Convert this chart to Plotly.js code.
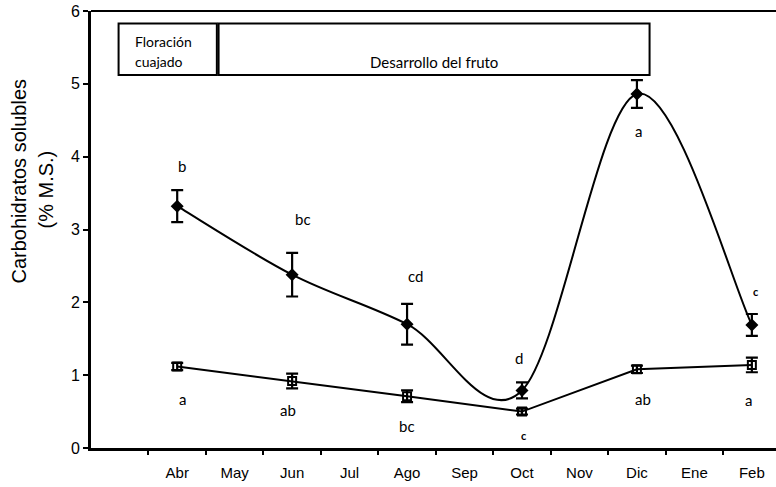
<!DOCTYPE html>
<html>
<head>
<meta charset="utf-8">
<script src="https://cdn.plot.ly/plotly-3.0.1.min.js"></script>
<style>
  html, body { margin: 0; padding: 0; background: #fff; }
  #chart { width: 776px; height: 487px; }
</style>
</head>
<body>
<div id="chart"></div>
<script>
// ---- data ----
const months = ['Abr', 'May', 'Jun', 'Jul', 'Ago', 'Sep', 'Oct', 'Nov', 'Dic', 'Ene', 'Feb'];
const sampleMonths = ['Abr', 'Jun', 'Ago', 'Oct', 'Dic', 'Feb'];
const upperMean = [3.32, 2.38, 1.70, 0.79, 4.86, 1.69];
const upperErr  = [0.22, 0.30, 0.28, 0.11, 0.19, 0.15];
const lowerMean = [1.12, 0.92, 0.71, 0.50, 1.08, 1.14];
const lowerErr  = [0.05, 0.10, 0.08, 0.04, 0.05, 0.10];
const upperLetters = ['b', 'bc', 'cd', 'd', 'a', 'c'];
const lowerLetters = ['a', 'ab', 'bc', 'c', 'ab', 'a'];
const yTitle1 = 'Carbohidratos solubles';
const yTitle2 = '(% M.S.)';
const phase1 = ['Floración', 'cuajado'];
const phase2 = 'Desarrollo del fruto';

// ---- positions derived from labels ----
const monthPos = m => months.indexOf(m) + 1;   // index 0 is an empty leading slot
const xs = sampleMonths.map(monthPos);
const tickPos = months.map((m, i) => i + 1);
const boundaryPos = months.map((m, i) => i + 0.5);

// Smoothed (Excel-style Bezier) path through the upper series, in data coordinates
function smoothPath(x, y) {
  const n = x.length;
  let d = 'M ' + x[0] + ',' + y[0];
  for (let i = 0; i < n - 1; i++) {
    const i0 = Math.max(i - 1, 0), i3 = Math.min(i + 2, n - 1);
    const c1x = x[i] + (x[i + 1] - x[i0]) / 6, c1y = y[i] + (y[i + 1] - y[i0]) / 6;
    const c2x = x[i + 1] - (x[i3] - x[i]) / 6, c2y = y[i + 1] - (y[i3] - y[i]) / 6;
    d += ' C ' + c1x + ',' + c1y + ' ' + c2x + ',' + c2y + ' ' + x[i + 1] + ',' + y[i + 1];
  }
  return d;
}

// ---- styles / label placement (pixels) ----
const upperShift = [[5, 40], [11, 56], [8, 48], [-3, 32], [2, -37], [4, 33]];
const lowerShift = [[5, -33], [-4, -29], [0, -30], [2, -24], [6, -30], [-3, -35]];
const upperSmall = [false, false, false, false, false, true];
const lowerSmall = [false, false, false, true, false, false];
const letterFont = { family: 'Lato, "Open Sans", sans-serif', size: 15, color: '#000' };
const smallFont = { family: 'Lato, "Open Sans", sans-serif', size: 11, color: '#000', weight: 'bold' };

const traces = [
  {
    x: xs, y: upperMean, type: 'scatter', mode: 'markers',
    marker: { symbol: 'diamond', size: 10, color: '#000' },
    error_y: { type: 'data', array: upperErr, visible: true, color: '#000', thickness: 2.2, width: 6 },
    hoverinfo: 'skip', showlegend: false
  },
  {
    x: xs, y: lowerMean, type: 'scatter', mode: 'lines+markers',
    line: { color: '#000', width: 2 },
    marker: { symbol: 'square-open', size: 8, color: '#000', line: { width: 2, color: '#000' } },
    error_y: { type: 'data', array: lowerErr, visible: true, color: '#000', thickness: 2.2, width: 6 },
    hoverinfo: 'skip', showlegend: false
  }
];

const annotations = [];
xs.forEach((x, i) => {
  annotations.push({
    x: x, y: upperMean[i], xref: 'x', yref: 'y', text: upperLetters[i], showarrow: false,
    xshift: upperShift[i][0], yshift: upperShift[i][1],
    font: upperSmall[i] ? smallFont : letterFont
  });
  annotations.push({
    x: x, y: lowerMean[i], xref: 'x', yref: 'y', text: lowerLetters[i], showarrow: false,
    xshift: lowerShift[i][0], yshift: lowerShift[i][1],
    font: lowerSmall[i] ? smallFont : letterFont
  });
});

const titleFont = { family: 'Liberation Sans, Arial, sans-serif', size: 20, color: '#000' };
annotations.push({ xref: 'paper', yref: 'paper', x: 0, y: 0.5, xanchor: 'center', yanchor: 'middle',
  xshift: -73, yshift: 48, text: yTitle1, textangle: -90, showarrow: false, font: titleFont });
annotations.push({ xref: 'paper', yref: 'paper', x: 0, y: 0.5, xanchor: 'center', yanchor: 'middle',
  xshift: -46, yshift: 40, text: yTitle2, textangle: -90, showarrow: false, font: titleFont });

const boxFont = { family: 'Lato, "Open Sans", sans-serif', size: 14, color: '#000' };
annotations.push({ xref: 'x', yref: 'y', x: 0.23, y: 5.58, xanchor: 'left', text: phase1[0], showarrow: false, font: boxFont });
annotations.push({ xref: 'x', yref: 'y', x: 0.23, y: 5.30, xanchor: 'left', text: phase1[1], showarrow: false, font: boxFont });
annotations.push({ xref: 'x', yref: 'y', x: 5.46, y: 5.30, text: phase2, showarrow: false,
  font: { family: 'Lato, "Open Sans", sans-serif', size: 15, color: '#000' } });

const shapes = [
  { type: 'path', xref: 'x', yref: 'y', path: smoothPath(xs, upperMean), layer: 'below',
    line: { color: '#000', width: 2 }, fillcolor: 'rgba(0,0,0,0)' },
  { type: 'line', xref: 'paper', yref: 'paper', x0: 0, x1: 1, y0: 1, y1: 1, line: { color: '#000', width: 2 } },
  { type: 'rect', xref: 'x', yref: 'y', x0: -0.02, x1: 1.69, y0: 5.12, y1: 5.83, line: { color: '#000', width: 2 }, fillcolor: 'rgba(0,0,0,0)' },
  { type: 'rect', xref: 'x', yref: 'y', x0: 1.72, x1: 9.22, y0: 5.12, y1: 5.83, line: { color: '#000', width: 2 }, fillcolor: 'rgba(0,0,0,0)' }
];

const layout = {
  width: 776, height: 487,
  margin: { l: 91, r: 0, t: 11, b: 39, pad: 0 },
  paper_bgcolor: '#fff', plot_bgcolor: '#fff',
  showlegend: false,
  xaxis: {
    type: 'linear', range: [-0.5, 11.42], fixedrange: true,
    tickmode: 'array', tickvals: tickPos, ticktext: months,
    ticks: '', showgrid: false, zeroline: false,
    showline: true, linecolor: '#000', linewidth: 3,
    tickfont: { family: 'Liberation Sans, Arial, sans-serif', size: 15, color: '#000' },
    ticklabelstandoff: 9,
    minor: { tickmode: 'array', tickvals: boundaryPos, ticks: 'outside', ticklen: 4, tickwidth: 2, tickcolor: '#000', showgrid: false }
  },
  yaxis: {
    range: [0, 6], fixedrange: true, tickmode: 'linear', tick0: 0, dtick: 1,
    ticks: 'outside', ticklen: 5, tickwidth: 2, tickcolor: '#000',
    showgrid: false, zeroline: false,
    showline: true, linecolor: '#000', linewidth: 3,
    tickfont: { family: 'Liberation Sans, Arial, sans-serif', size: 16, color: '#000' }
  },
  annotations: annotations,
  shapes: shapes
};

Plotly.newPlot('chart', traces, layout, { displayModeBar: false, staticPlot: true });
</script>
</body>
</html>
